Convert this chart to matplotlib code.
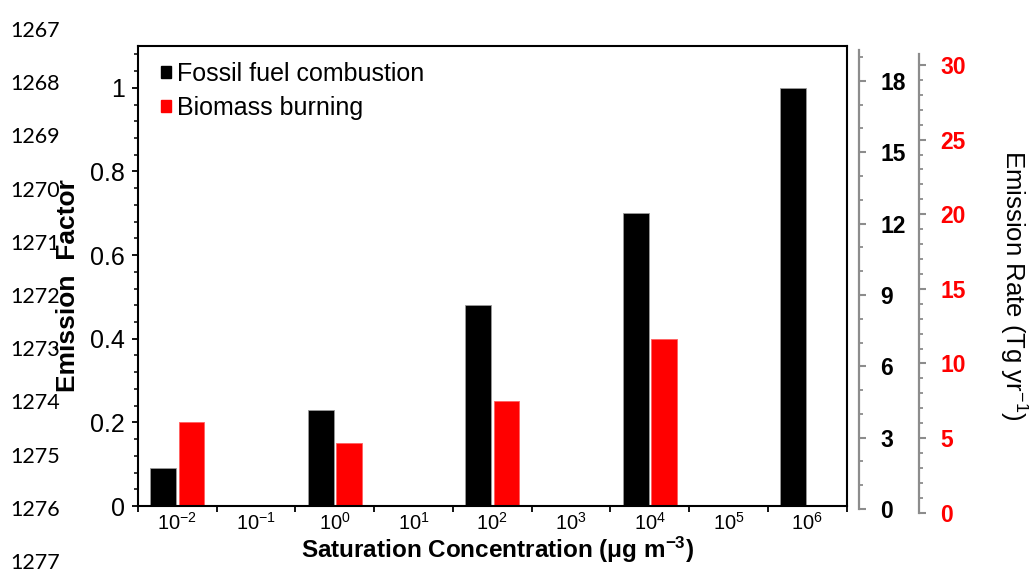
import matplotlib
matplotlib.use("Agg")
import matplotlib.pyplot as plt
from matplotlib.patches import Patch
from matplotlib.ticker import MultipleLocator, NullFormatter
import numpy as np

# ---- data -------------------------------------------------------------
exponents = [-2, -1, 0, 1, 2, 3, 4, 5, 6]
fossil = [0.09, 0, 0.23, 0, 0.48, 0, 0.70, 0, 1.00]
biomass = [0.20, 0, 0.15, 0, 0.25, 0, 0.40, 0, 0]
ef_ticks = [0, 0.2, 0.4, 0.6, 0.8, 1.0]
ef_labels = ["0", "0.2", "0.4", "0.6", "0.8", "1"]
rate_fossil_ticks = [0, 3, 6, 9, 12, 15, 18]
rate_biomass_ticks = [0, 5, 10, 15, 20, 25, 30]
line_numbers = list(range(1267, 1278))

# ---- figure -----------------------------------------------------------
W, H = 1029, 573
plt.rcParams["mathtext.default"] = "regular"
plt.rcParams["font.family"] = ["Liberation Sans", "DejaVu Sans"]
fig = plt.figure(figsize=(W / 100, H / 100), dpi=100)


def fx(px):
    return px / W


def fy(py):
    return 1 - py / H


GREY = "#8c8c8c"

# document line numbers down the left margin
for i, n in enumerate(line_numbers):
    fig.text(fx(10), fy(31 + 53.2 * i), str(n), ha="left", va="center",
             fontsize=15.5, family=["Lato", "DejaVu Sans"], color="black")

# ---- main axes: emission factor --------------------------------------
ax = fig.add_axes([fx(138), fy(506), (846.7 - 138) / W, (506 - 46) / H])
x = np.arange(len(exponents))
width = 0.327
ax.bar(x - 0.18, fossil, width, color="black", edgecolor="#9a9a9a",
       linewidth=0.6, label="Fossil fuel combustion")
ax.bar(x + 0.18, biomass, width, color="#ff0000", edgecolor="#ff6060",
       linewidth=0.6, label="Biomass burning")

ax.set_xlim(-0.5, len(exponents) - 0.5)
ax.set_ylim(0, 1.1)

for s in ax.spines.values():
    s.set_linewidth(1.5)
    s.set_color("black")

ax.set_xticks(np.arange(-0.5, len(exponents), 1.0))
ax.xaxis.set_major_formatter(NullFormatter())
ax.set_xticks(x, minor=True)
ax.set_xticklabels([f"10$^{{{e}}}$" for e in exponents], minor=True,
                   fontsize=14.5)
ax.tick_params(axis="x", which="major", direction="out", length=4.5,
               width=1.3, color="black")
ax.tick_params(axis="x", which="minor", length=0, pad=4)

ax.set_yticks(ef_ticks)
ax.set_yticklabels(ef_labels, fontsize=18)
ax.yaxis.set_minor_locator(MultipleLocator(0.04))
ax.tick_params(axis="y", which="major", direction="out", length=4.5,
               width=1.3, pad=5)
ax.tick_params(axis="y", which="minor", direction="out", length=3,
               width=1.1)

fig.text(fx(68), fy(286), "Emission  Factor", rotation=90, ha="center",
         va="center", fontsize=19, fontweight="bold")
fig.text(fx(497), fy(550), "Saturation Concentration (μg m$^{-3}$)",
         ha="center", va="center", fontsize=17.5, fontweight="bold")

handles = [Patch(facecolor="black", edgecolor="black"),
           Patch(facecolor="#ff0000", edgecolor="#ff0000")]
ax.legend(handles, ["Fossil fuel combustion", "Biomass burning"],
          loc="upper left", bbox_to_anchor=(fx(161), fy(62)),
          bbox_transform=fig.transFigure, frameon=False, fontsize=18,
          handlelength=0.4, handleheight=0.4, handletextpad=0.25,
          labelspacing=0.4, borderpad=0, borderaxespad=0)


# ---- right-hand emission rate scales ---------------------------------
def rate_axis(spine_x, y0, y1, top, major, minor_step, label_color, pad):
    a = fig.add_axes([fx(spine_x - 10), fy(y0), 10 / W, (y0 - y1) / H])
    a.patch.set_visible(False)
    for name, s in a.spines.items():
        s.set_visible(name == "right")
    a.spines["right"].set_color(GREY)
    a.spines["right"].set_linewidth(1.6)
    a.set_xticks([])
    a.set_ylim(0, top)
    a.yaxis.tick_right()
    a.set_yticks(major)
    a.set_yticklabels([str(v) for v in major], fontsize=16.5,
                      fontweight="bold", color=label_color)
    a.yaxis.set_minor_locator(MultipleLocator(minor_step))
    a.tick_params(axis="y", which="major", direction="out", length=4.8,
                  width=1.5, color=GREY, pad=pad)
    a.tick_params(axis="y", which="minor", direction="out", length=3.2,
                  width=1.3, color=GREY)
    return a


rate_axis(858.5, 509, 50, 19.3, rate_fossil_ticks, 1, "black", 11)
rate_axis(919, 512.7, 54, 30.74, rate_biomass_ticks, 1, "#ff0000", 10.5)

fig.text(fx(1013), fy(285), "Emission Rate (Tg yr$^{-1}$)", rotation=270,
         ha="center", va="center", fontsize=18.5)

fig.savefig("out.png", dpi=100)
